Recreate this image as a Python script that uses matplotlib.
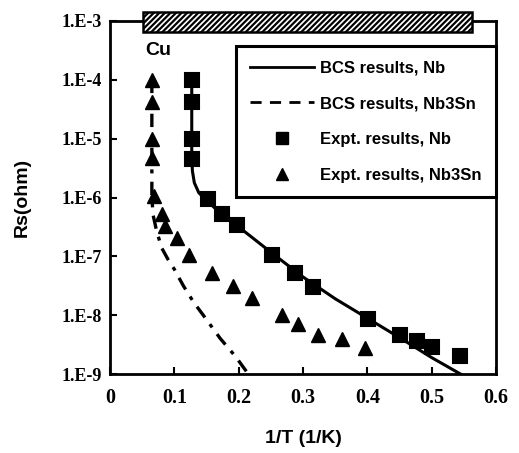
import numpy as np
import matplotlib
matplotlib.use("Agg")
import matplotlib.pyplot as plt
from matplotlib.patches import Rectangle
from matplotlib.lines import Line2D

# ---- data (log10 of Rs in ohm) ----
nb_expt_x = [0.127, 0.127, 0.127, 0.127, 0.152, 0.174, 0.197, 0.252, 0.288, 0.316, 0.401, 0.451, 0.477, 0.500, 0.544]
nb_expt_logy = [-4.0, -4.38, -5.0, -5.35, -6.03, -6.28, -6.47, -6.97, -7.29, -7.52, -8.06, -8.34, -8.43, -8.54, -8.69]

sn_expt_x = [0.065, 0.065, 0.065, 0.065, 0.068, 0.081, 0.086, 0.104, 0.123, 0.158, 0.191, 0.221, 0.267, 0.292, 0.323, 0.360, 0.396]
sn_expt_logy = [-4.0, -4.38, -5.0, -5.33, -5.97, -6.28, -6.48, -6.68, -6.98, -7.29, -7.50, -7.71, -8.00, -8.15, -8.33, -8.41, -8.56]

nb_bcs_x = [0.127, 0.127, 0.128, 0.131, 0.138, 0.150, 0.170, 0.200, 0.250, 0.300, 0.350, 0.400, 0.450, 0.500, 0.545]
nb_bcs_logy = [-4.0, -5.3, -5.55, -5.75, -5.92, -6.05, -6.25, -6.50, -6.93, -7.35, -7.72, -8.05, -8.38, -8.72, -9.0]

sn_bcs_x = [0.065, 0.065, 0.067, 0.072, 0.080, 0.090, 0.100, 0.114, 0.130, 0.145, 0.171, 0.195, 0.215]
sn_bcs_logy = [-4.0, -6.0, -6.3, -6.55, -6.85, -7.05, -7.22, -7.5, -7.78, -8.0, -8.39, -8.7, -9.0]

ytick_vals = [-9, -8, -7, -6, -5, -4, -3]
ytick_labels = ["1.E-9", "1.E-8", "1.E-7", "1.E-6", "1.E-5", "1.E-4", "1.E-3"]
xtick_vals = [0, 0.1, 0.2, 0.3, 0.4, 0.5, 0.6]
xtick_labels = ["0", "0.1", "0.2", "0.3", "0.4", "0.5", "0.6"]

legend_labels = ["BCS results, Nb", "BCS results, Nb3Sn", "Expt. results, Nb", "Expt. results, Nb3Sn"]

# ---- figure ----
plt.rcParams["hatch.linewidth"] = 1.6
fig = plt.figure(figsize=(5.19, 4.53), dpi=100)
ax = fig.add_axes([0.212, 0.174, 0.744, 0.780])

def p(v):
    return np.power(10.0, np.array(v))

ax.set_yscale("log")
ax.set_xlim(0, 0.6)
ax.set_ylim(1e-9, 1e-3)

ax.plot(nb_bcs_x, p(nb_bcs_logy), color="black", lw=2.2, zorder=3)
ax.plot(sn_bcs_x, p(sn_bcs_logy), color="black", lw=2.4,
        linestyle=(0, (4, 2.5, 1.2, 2.5)), zorder=3)
ax.plot(nb_expt_x, p(nb_expt_logy), linestyle="none", marker="s", ms=10,
        mfc="black", mec="black", mew=1.5, zorder=4)
ax.plot(sn_expt_x, p(sn_expt_logy), linestyle="none", marker="^", ms=10,
        mfc="black", mec="black", zorder=4)

# ticks
ax.set_yticks(p(ytick_vals))
ax.set_yticklabels(ytick_labels)
ax.yaxis.set_minor_locator(matplotlib.ticker.NullLocator())
ax.set_xticks(xtick_vals)
ax.set_xticklabels(xtick_labels)
ax.tick_params(direction="in", length=5, width=1.5)
ax.tick_params(axis="y", pad=6)
ax.tick_params(axis="x", pad=10)
for lab in ax.get_yticklabels():
    lab.set_fontfamily("Liberation Serif")
    lab.set_fontweight("bold")
    lab.set_fontsize(13)
for lab in ax.get_xticklabels():
    lab.set_fontfamily("Liberation Serif")
    lab.set_fontweight("bold")
    lab.set_fontsize(14.5)

for s in ax.spines.values():
    s.set_linewidth(2)

ax.set_xlabel("1/T (1/K)", fontsize=14, fontweight="bold", family="Liberation Sans", labelpad=16)
ax.set_ylabel("Rs(ohm)", fontsize=14, fontweight="bold", family="Liberation Sans", labelpad=22)

# hatched bar across the top (Cu)
rect = Rectangle((0.051, 10 ** -3.19), 0.563 - 0.051, 10 ** -2.85 - 10 ** -3.19,
                 facecolor="white", edgecolor="black", lw=1.8, hatch="//////",
                 clip_on=False, zorder=10)
ax.add_patch(rect)
ax.text(0.054, 10 ** -3.5, "Cu", fontsize=14, fontweight="bold",
        family="Liberation Sans", ha="left", va="center")

# legend
handles = [
    Line2D([], [], color="black", lw=2),
    Line2D([], [], color="black", lw=2, linestyle=(0, (4, 3))),
    Line2D([], [], color="black", marker="s", linestyle="none", ms=8),
    Line2D([], [], color="black", marker="^", linestyle="none", ms=8),
]
leg = ax.legend(handles, legend_labels, loc="upper right", bbox_to_anchor=(1.0, 0.928),
                prop={"family": "Liberation Sans", "weight": "bold", "size": 12},
                labelspacing=1.25, borderpad=0.85, handlelength=3.8, handletextpad=0.4,
                fancybox=False, framealpha=1, edgecolor="black", borderaxespad=0)
leg.get_frame().set_linewidth(2.2)

fig.savefig("out.png", dpi=100)
